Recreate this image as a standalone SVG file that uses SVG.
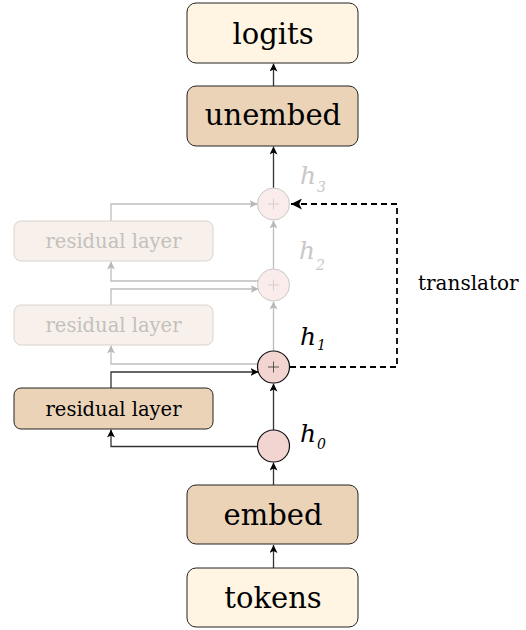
<svg xmlns="http://www.w3.org/2000/svg" width="526" height="630" viewBox="0 0 526 630">
<defs>
<marker id="ad" viewBox="0 0 10 10" refX="10" refY="5" markerWidth="8" markerHeight="8" markerUnits="userSpaceOnUse" orient="auto"><path d="M0,0 L10,5 L0,10 L2.5,5 Z" fill="#000"/></marker>
<marker id="ag" viewBox="0 0 10 10" refX="10" refY="5" markerWidth="8" markerHeight="8" markerUnits="userSpaceOnUse" orient="auto"><path d="M0,0 L10,5 L0,10 L2.5,5 Z" fill="#b8b8b8"/></marker>
<marker id="ak" viewBox="0 0 10 10" refX="10" refY="5" markerWidth="11" markerHeight="11" markerUnits="userSpaceOnUse" orient="auto"><path d="M0,0 L10,5 L0,10 L2.5,5 Z" fill="#000"/></marker>
</defs>
<style>
text{font-family:'DejaVu Serif','Noto Serif','Liberation Serif',serif}
.big{font-size:29px;fill:#000;text-anchor:middle}
.res{font-size:19.5px;text-anchor:middle}
.h{font-style:italic;font-size:25px}
.sub{font-size:14px}
.light{fill:#fff5e2;stroke:#222;stroke-width:1}
.tan{fill:#ebd3b8;stroke:#222;stroke-width:1}
.ghost{fill:#f8f1eb;stroke:#d8d2cc;stroke-width:1}
.dk{fill:none;stroke:#333;stroke-width:1.3;marker-end:url(#ad)}
.gr{fill:none;stroke:#bdbdbd;stroke-width:1.3;marker-end:url(#ag)}
</style>
<g id="connectors">
<path class="dk" d="M273.5,568 V545"/>
<path class="dk" d="M273.5,485 V462.5"/>
<path class="dk" d="M273.5,430 V383.5"/>
<path class="gr" d="M273.5,351 V301.5"/>
<path class="gr" d="M273.5,269 V220.5"/>
<path class="dk" d="M273.5,188 V146.5"/>
<path class="dk" d="M273.5,86 V63.5"/>
<path class="dk" d="M258,446.5 H111 V429.5"/>
<path class="dk" d="M111,388 V372 H258.5"/>
<path class="gr" d="M258,364 H111 V345.5"/>
<path class="gr" d="M111,305 V289 H258.5"/>
<path class="gr" d="M258,281 H111 V261.5"/>
<path class="gr" d="M111,221 V204 H257.5"/>
<path d="M290,367 H397 V204 H291" fill="none" stroke="#000" stroke-width="1.8" stroke-dasharray="6,4" marker-end="url(#ak)"/>
</g>
<g id="logits"><rect class="light" x="187" y="3" width="171" height="60" rx="9"/><text class="big" x="273" y="44">logits</text></g>
<g id="unembed"><rect class="tan" x="187" y="86" width="171" height="60" rx="9"/><text class="big" x="273" y="125">unembed</text></g>
<g id="h3"><circle cx="273.5" cy="204" r="16" fill="#f9ecea" stroke="#c8c8c8"/><path d="M268,204 H279 M273.5,198.5 V209.5" stroke="#d0c8c8" stroke-width="0.8"/><text class="h" x="300" y="184" fill="#c8c8c8">h<tspan class="sub" dx="1" dy="8">3</tspan></text></g>
<g id="residual3"><rect class="ghost" x="14" y="221" width="199" height="40" rx="7"/><text class="res" x="113.5" y="248" fill="#c4c0bc">residual layer</text></g>
<g id="h2"><circle cx="273.5" cy="285" r="16" fill="#f9ecea" stroke="#c8c8c8"/><path d="M268,285 H279 M273.5,279.5 V290.5" stroke="#d0c8c8" stroke-width="0.8"/><text class="h" x="299" y="259" fill="#c8c8c8">h<tspan class="sub" dx="1" dy="11">2</tspan></text></g>
<g id="residual2"><rect class="ghost" x="14" y="305" width="199" height="40" rx="7"/><text class="res" x="113.5" y="332" fill="#c4c0bc">residual layer</text></g>
<g id="translator-label"><text x="418" y="290" fill="#000" font-size="20">translator</text></g>
<g id="h1"><circle cx="273.5" cy="367" r="16" fill="#f2d5d1" stroke="#111" stroke-width="1.2"/><path d="M268,367 H279 M273.5,361.5 V372.5" stroke="#333" stroke-width="0.8"/><text class="h" x="300" y="345" fill="#000">h<tspan class="sub" dx="1" dy="5">1</tspan></text></g>
<g id="residual1"><rect class="tan" x="14" y="388" width="199" height="41" rx="7"/><text class="res" x="113.5" y="416" fill="#000">residual layer</text></g>
<g id="h0"><circle cx="273.5" cy="446" r="16" fill="#f2d5d1" stroke="#111" stroke-width="1.2"/><text class="h" x="300" y="442" fill="#000">h<tspan class="sub" dx="1" dy="7">0</tspan></text></g>
<g id="embed"><rect class="tan" x="187" y="485" width="171" height="59" rx="9"/><text class="big" x="273" y="525">embed</text></g>
<g id="tokens"><rect class="light" x="187" y="568" width="171" height="59" rx="9"/><text class="big" x="273" y="608">tokens</text></g>
</svg>
